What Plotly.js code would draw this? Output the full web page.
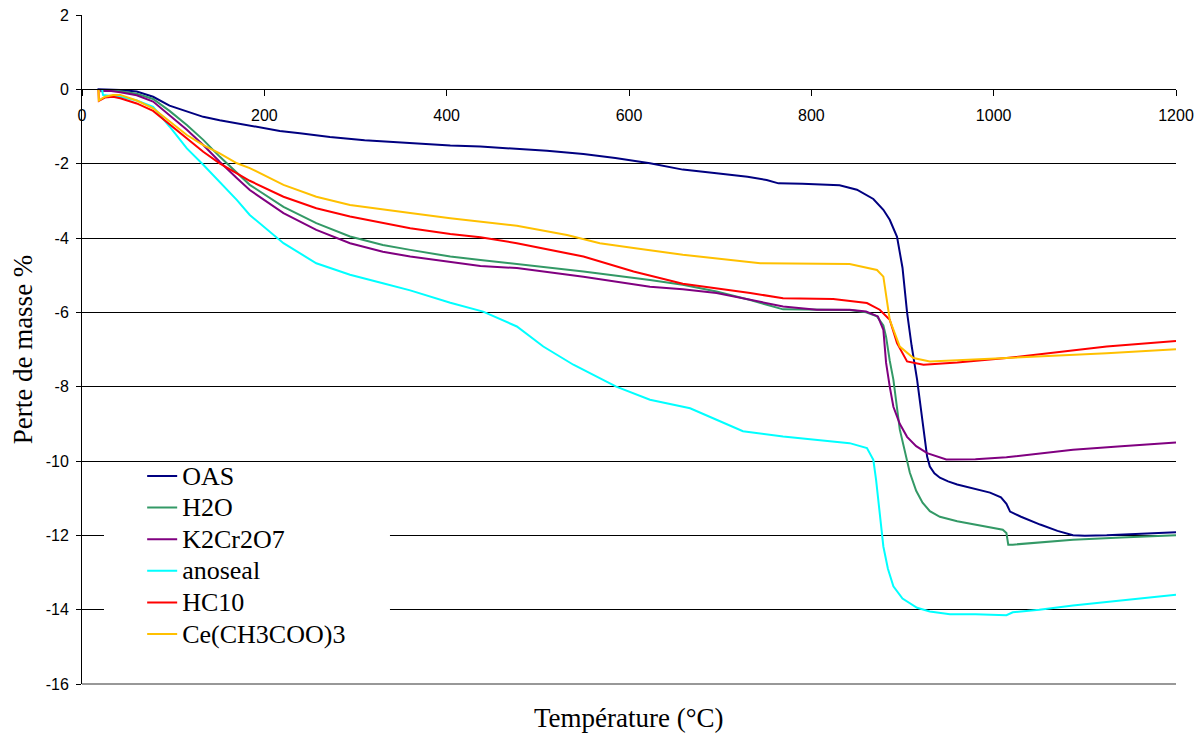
<!DOCTYPE html>
<html>
<head>
<meta charset="utf-8">
<script src="https://cdn.plot.ly/plotly-3.0.1.min.js"></script>
<style>html,body{margin:0;padding:0;background:#fff;}#chart{width:1204px;height:733px;}</style>
</head>
<body>
<div id="chart"></div>
<script>
// Series names
const seriesNames = ["OAS", "H2O", "K2Cr2O7", "anoseal", "HC10", "Ce(CH3COO)3"];
const seriesColors = ["#000080", "#339966", "#800080", "#00FFFF", "#FF0000", "#FFC000"];

// OAS
const oasT = [17,30,42,60,78,96,115,133,151,170,188,217,239,272,310,363,404,437,477,510,550,585,623,659,696,730,751,764,790,806,831,850,861,868,879,886,894,900,905,910,916,922,927,930,935,941,950,960,980,996,1008,1014,1018,1030,1051,1070,1087,1100,1124,1160,1200];
const oasV = [0,-0.01,-0.02,-0.06,-0.2,-0.44,-0.6,-0.74,-0.83,-0.91,-1.0,-1.12,-1.18,-1.28,-1.37,-1.45,-1.51,-1.54,-1.59,-1.65,-1.74,-1.85,-1.99,-2.16,-2.26,-2.35,-2.44,-2.53,-2.54,-2.55,-2.58,-2.7,-2.84,-2.95,-3.24,-3.51,-3.97,-4.8,-6.0,-6.9,-7.81,-8.9,-9.88,-10.15,-10.33,-10.45,-10.55,-10.63,-10.75,-10.85,-10.98,-11.15,-11.36,-11.5,-11.71,-11.88,-12.0,-12.01,-12.0,-11.97,-11.92];

// H2O
const h2oT = [20,30,42,60,78,96,115,133,151,170,184,221,257,294,330,360,404,437,477,550,623,659,696,733,769,806,842,860,872,879,882,886,890,897,903,908,915,922,930,941,960,978,1000,1010,1014,1016,1021,1050,1087,1140,1200];
const h2oV = [-0.03,-0.02,-0.05,-0.12,-0.26,-0.58,-0.96,-1.36,-1.81,-2.26,-2.57,-3.16,-3.6,-3.96,-4.19,-4.32,-4.5,-4.59,-4.7,-4.9,-5.13,-5.26,-5.44,-5.67,-5.92,-5.92,-5.94,-6.0,-6.11,-6.35,-6.66,-7.3,-7.81,-9.15,-9.8,-10.31,-10.8,-11.12,-11.35,-11.5,-11.62,-11.71,-11.8,-11.85,-11.94,-12.25,-12.25,-12.2,-12.12,-12.06,-12.0];

// K2Cr2O7
const kcrT = [20,30,42,60,78,96,115,133,151,170,184,221,257,294,330,360,404,437,477,550,623,659,696,733,769,806,842,860,873,879,882,886,890,897,905,915,927,948,980,1014,1050,1087,1140,1200];
const kcrV = [-0.05,-0.04,-0.08,-0.16,-0.33,-0.69,-1.09,-1.5,-1.95,-2.39,-2.71,-3.33,-3.78,-4.14,-4.37,-4.5,-4.65,-4.75,-4.81,-5.04,-5.31,-5.38,-5.48,-5.66,-5.84,-5.93,-5.93,-5.98,-6.11,-6.47,-7.36,-8.0,-8.54,-9.0,-9.35,-9.6,-9.79,-9.96,-9.95,-9.9,-9.8,-9.7,-9.6,-9.5];

// anoseal
const anoT = [22,23,30,42,60,78,96,115,133,151,170,184,221,257,294,330,360,404,440,477,506,539,586,623,667,696,725,769,806,842,861,868,871,875,879,884,890,900,916,930,952,980,1014,1021,1050,1087,1140,1200];
const anoV = [0,-0.15,-0.17,-0.2,-0.3,-0.47,-1.0,-1.59,-2.03,-2.48,-2.98,-3.38,-4.14,-4.68,-4.99,-5.22,-5.41,-5.74,-5.98,-6.38,-6.92,-7.41,-8.0,-8.35,-8.58,-8.89,-9.2,-9.34,-9.43,-9.52,-9.65,-9.97,-10.5,-11.5,-12.3,-12.9,-13.37,-13.7,-13.95,-14.05,-14.12,-14.12,-14.15,-14.07,-14.0,-13.89,-13.75,-13.6];

// HC10
const hcT = [18,18.5,25,34,42,60,78,96,115,133,151,170,184,221,257,294,330,360,404,437,477,550,605,659,733,769,824,861,875,886,894,905,923,960,1014,1070,1124,1200];
const hcV = [0,-0.31,-0.22,-0.2,-0.24,-0.38,-0.58,-0.94,-1.32,-1.68,-1.99,-2.26,-2.46,-2.89,-3.2,-3.42,-3.6,-3.74,-3.89,-3.98,-4.14,-4.5,-4.9,-5.23,-5.48,-5.62,-5.64,-5.75,-5.93,-6.2,-6.83,-7.32,-7.41,-7.35,-7.23,-7.08,-6.92,-6.77];

// Ce(CH3COO)3
const ceT = [18,18.5,25,34,42,60,78,96,115,133,151,170,184,221,257,294,330,360,404,477,532,568,605,659,744,806,842,872,879,886,897,912,930,1014,1124,1200];
const ceV = [0,-0.3,-0.2,-0.15,-0.15,-0.3,-0.51,-0.87,-1.23,-1.5,-1.72,-1.99,-2.12,-2.57,-2.89,-3.11,-3.24,-3.33,-3.47,-3.67,-3.92,-4.14,-4.27,-4.45,-4.68,-4.68,-4.7,-4.86,-5.04,-6.2,-6.92,-7.23,-7.32,-7.23,-7.1,-6.99];

const yTickVals = [2,0,-2,-4,-6,-8,-10,-12,-14,-16];
const xTickVals = [0,200,400,600,800,1000,1200];

const xs = [oasT, h2oT, kcrT, anoT, hcT, ceT];
const ys = [oasV, h2oV, kcrV, anoV, hcV, ceV];

const traces = seriesNames.map((n, i) => ({
  type: 'scatter', mode: 'lines',
  name: '<span style="font-size:26px">' + n + '</span>',
  x: xs[i], y: ys[i],
  line: {color: seriesColors[i], width: 2},
  hoverinfo: 'skip'
}));

const serif = '"Liberation Serif", "Times New Roman", serif';
const sans = '"Liberation Sans", Arial, sans-serif';

const layout = {
  width: 1204, height: 733,
  margin: {l: 82, r: 28, t: 15, b: 49},
  paper_bgcolor: '#fff', plot_bgcolor: '#fff',
  font: {family: sans, size: 16, color: '#000'},
  showlegend: true,
  xaxis: {
    range: [0, 1200], tickvals: xTickVals, ticktext: xTickVals.map(String),
    showgrid: false, zeroline: false,
    showline: true, linecolor: '#000', linewidth: 1,
    ticks: 'outside', ticklen: 6, tickcolor: '#000',
    anchor: 'free', position: 16/18,
    ticklabelstandoff: 5,
    tickfont: {family: sans, size: 16, color: '#000'}
  },
  yaxis: {
    range: [-16, 2], tickvals: yTickVals, ticktext: yTickVals.map(String),
    showgrid: true, gridcolor: '#000', gridwidth: 1,
    zeroline: false, showline: true, linecolor: '#000', linewidth: 1,
    ticks: 'outside', ticklen: 5, tickcolor: '#000',
    ticklabelstandoff: 4,
    tickfont: {family: sans, size: 16, color: '#000'},
    title: {text: 'Perte de masse %', font: {family: serif, size: 27, color: '#000'}, standoff: 5}
  },
  legend: {
    x: 0.055, y: 0.342, xanchor: 'left', yanchor: 'top',
    bgcolor: 'rgba(255,255,255,0)', borderwidth: 0,
    font: {family: serif, size: 22, color: '#000'},
    tracegroupgap: 0, itemwidth: 30
  },
  shapes: [{
    type: 'rect', xref: 'paper', yref: 'paper',
    x0: 0.0201, x1: 0.2815, y0: 0.003, y1: 0.329,
    fillcolor: '#fff', line: {width: 0}, layer: 'above'
  }, {
    type: 'line', xref: 'paper', yref: 'paper',
    x0: 0, x1: 1, y0: 0, y1: 0,
    line: {color: '#333', width: 1.2}, layer: 'above'
  }],
  annotations: [{
    text: 'Température (°C)', xref: 'paper', yref: 'paper',
    x: 0.5, y: -0.051, xanchor: 'center', yanchor: 'middle', showarrow: false,
    font: {family: serif, size: 27, color: '#000'}
  }]
};

Plotly.newPlot('chart', traces, layout, {staticPlot: true, displayModeBar: false});
</script>
</body>
</html>
